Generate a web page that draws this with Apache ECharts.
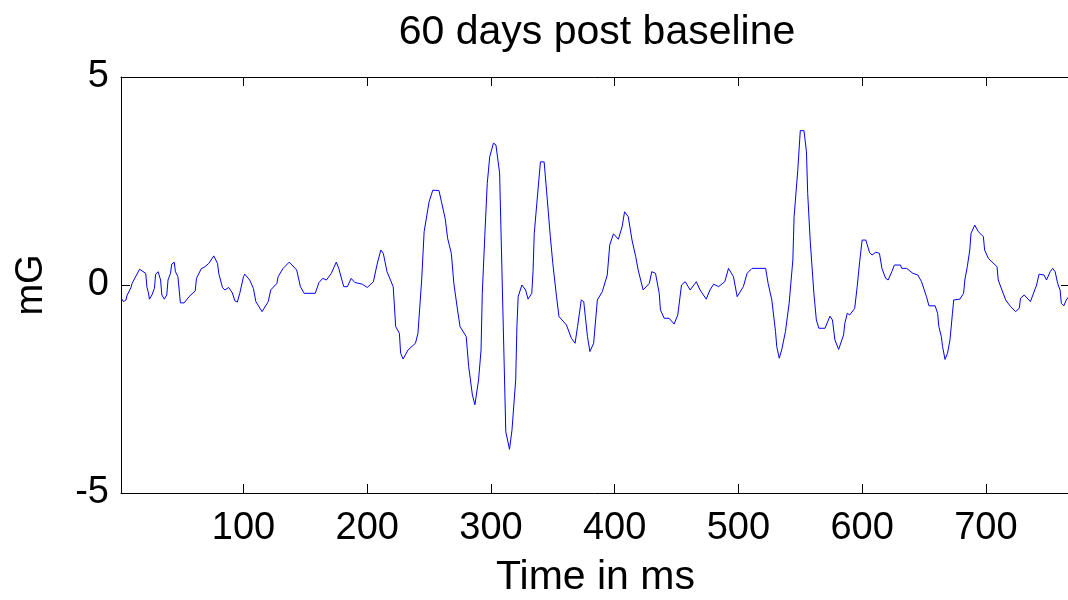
<!DOCTYPE html>
<html>
<head>
<meta charset="utf-8">
<script src="https://cdn.jsdelivr.net/npm/echarts@6/dist/echarts.min.js"></script>
<style>
html,body{margin:0;padding:0;background:#fff;overflow:hidden;}
#chart{width:1068px;height:600px;}
</style>
</head>
<body>
<div id="chart"></div>
<script>
const timeMs = [1,3,5,6,9,10,16,21,22,23,24,26,28,29,31,33,34,36,38,39,41,42,44,45,47,49,52,56,61,62,66,68,72,76,79,80,83,85,88,91,93,95,97,100,101,105,108,110,115,120,122,127,128,132,137,143,146,149,158,161,164,167,171,175,177,181,184,187,190,196,200,205,208,211,213,216,221,223,226,227,229,233,239,241,244,246,250,253,258,260,263,265,268,270,273,275,280,282,285,287,290,292,293,295,297,299,302,304,307,312,315,317,320,321,322,325,328,330,333,334,335,338,340,343,345,348,350,353,355,361,365,368,370,373,375,378,380,383,386,390,394,396,399,403,406,408,411,414,417,419,423,428,430,433,436,437,440,444,448,451,454,457,461,466,469,474,477,480,484,489,492,496,499,504,507,511,522,524,527,530,531,533,535,538,541,544,545,548,550,553,555,556,558,561,563,565,570,574,576,578,581,585,586,588,590,594,596,598,600,603,606,608,611,614,616,619,621,624,626,631,632,636,641,645,648,652,654,659,661,662,664,665,667,669,671,673,674,679,682,683,685,687,688,691,694,698,699,702,709,710,713,716,720,724,727,728,731,736,738,741,743,747,749,752,754,756,758,760,761,763,765,767];
const mGValues = [-0.31,-0.40,-0.36,-0.24,-0.07,0.04,0.38,0.28,-0.06,-0.16,-0.34,-0.24,-0.08,0.26,0.32,0.12,-0.24,-0.34,-0.24,0.12,0.28,0.50,0.55,0.32,0.20,-0.43,-0.43,-0.28,-0.14,0.16,0.40,0.42,0.52,0.70,0.52,0.28,-0.06,-0.12,-0.06,-0.19,-0.38,-0.41,-0.20,0.20,0.26,0.12,-0.08,-0.40,-0.64,-0.40,-0.12,0.04,0.20,0.40,0.55,0.36,-0.04,-0.20,-0.20,0.06,0.16,0.12,0.28,0.55,0.40,-0.04,-0.04,0.16,0.06,0.02,-0.06,0.08,0.50,0.84,0.76,0.32,-0.04,-1.00,-1.16,-1.64,-1.78,-1.56,-1.40,-1.16,0.12,1.28,2.00,2.28,2.27,2.00,1.60,1.12,0.76,0.04,-0.60,-1.00,-1.24,-1.96,-2.64,-2.88,-2.28,-1.56,-0.20,1.16,2.44,3.08,3.41,3.37,2.69,-3.53,-3.95,-3.49,-2.28,-0.99,-0.28,0.00,-0.12,-0.34,-0.20,0.32,1.24,2.28,2.96,2.96,2.24,1.16,0.52,-0.28,-0.76,-0.96,-1.28,-1.40,-1.00,-0.36,-0.40,-1.24,-1.60,-1.40,-0.36,-0.16,0.24,0.96,1.23,1.10,1.40,1.76,1.64,1.08,0.68,0.36,-0.12,0.04,0.32,0.28,-0.20,-0.60,-0.80,-0.80,-0.94,-0.72,0.00,0.08,-0.12,0.08,-0.12,-0.34,-0.12,0.02,-0.04,0.08,0.40,0.20,-0.28,-0.04,0.28,0.40,0.40,0.04,-0.36,-1.12,-1.48,-1.76,-1.56,-1.12,-0.44,0.60,1.64,2.76,3.71,3.71,3.20,2.20,1.08,-0.20,-0.84,-1.04,-1.04,-0.75,-0.84,-1.32,-1.55,-1.20,-0.92,-0.68,-0.72,-0.56,-0.04,0.56,1.08,1.08,0.78,0.72,0.79,0.76,0.40,0.16,0.12,0.32,0.48,0.48,0.40,0.40,0.28,0.24,0.08,-0.28,-0.50,-0.50,-0.68,-1.00,-1.24,-1.48,-1.79,-1.64,-1.32,-0.68,-0.36,-0.34,-0.20,0.12,0.44,0.84,1.24,1.44,1.28,1.16,0.84,0.64,0.44,0.12,-0.12,-0.36,-0.52,-0.64,-0.56,-0.32,-0.24,-0.40,-0.24,0.00,0.26,0.24,0.12,0.32,0.40,0.32,0.04,-0.12,-0.44,-0.50,-0.36,-0.28];
const xTicks = [100,200,300,400,500,600,700];
const yTicks = [-5,0,5];
const titleText = '60 days post baseline';
const xName = 'Time in ms';
const yName = 'mG';

const seriesData = timeMs.map((t, i) => [t, mGValues[i]]);
const FONT = 'Liberation Sans, Arial, sans-serif';
const chart = echarts.init(document.getElementById('chart'), null, {renderer: 'canvas'});
const tickStyle = {show: true, inside: true, length: 9, lineStyle: {color: '#000', width: 1}};
chart.setOption({
  animation: false,
  backgroundColor: '#fff',
  title: {
    text: titleText, left: 592, top: 7, textAlign: 'center',
    textStyle: {fontFamily: FONT, fontSize: 41, fontWeight: 'normal', color: '#000'}
  },
  grid: {left: 121, top: 77, right: -2, bottom: 107, outerBoundsMode: 'none', containLabel: false, show: false},
  xAxis: [{
    type: 'value', min: 1, max: 768, position: 'bottom',
    name: xName, nameLocation: 'middle', nameGap: 64,
    nameTextStyle: {fontFamily: FONT, fontSize: 41, color: '#000'},
    axisLine: {show: true, onZero: false, lineStyle: {color: '#000'}},
    axisTick: Object.assign({customValues: xTicks}, tickStyle),
    axisLabel: {customValues: xTicks, margin: 17, fontFamily: FONT, fontSize: 38, color: '#000'},
    splitLine: {show: false}
  }, {
    type: 'value', min: 1, max: 768, position: 'top',
    axisLine: {show: true, onZero: false, lineStyle: {color: '#000'}},
    axisTick: Object.assign({customValues: xTicks}, tickStyle),
    axisLabel: {show: false},
    splitLine: {show: false}
  }],
  yAxis: [{
    type: 'value', min: -5, max: 5, interval: 5, position: 'left',
    name: yName, nameLocation: 'middle', nameGap: 70, nameRotate: 90,
    nameTextStyle: {fontFamily: FONT, fontSize: 38, color: '#000'},
    axisLine: {show: true, onZero: false, lineStyle: {color: '#000'}},
    axisTick: tickStyle,
    axisLabel: {margin: 12, fontFamily: FONT, fontSize: 38, color: '#000'},
    splitLine: {show: false}
  }, {
    type: 'value', min: -5, max: 5, interval: 5, position: 'right',
    axisLine: {show: false},
    axisTick: tickStyle,
    axisLabel: {show: false},
    splitLine: {show: false}
  }],
  series: [{
    type: 'line', data: seriesData, showSymbol: false, symbol: 'none',
    lineStyle: {color: '#0000ff', width: 1}, itemStyle: {color: '#0000ff'},
    clip: true
  }]
});
</script>
</body>
</html>
